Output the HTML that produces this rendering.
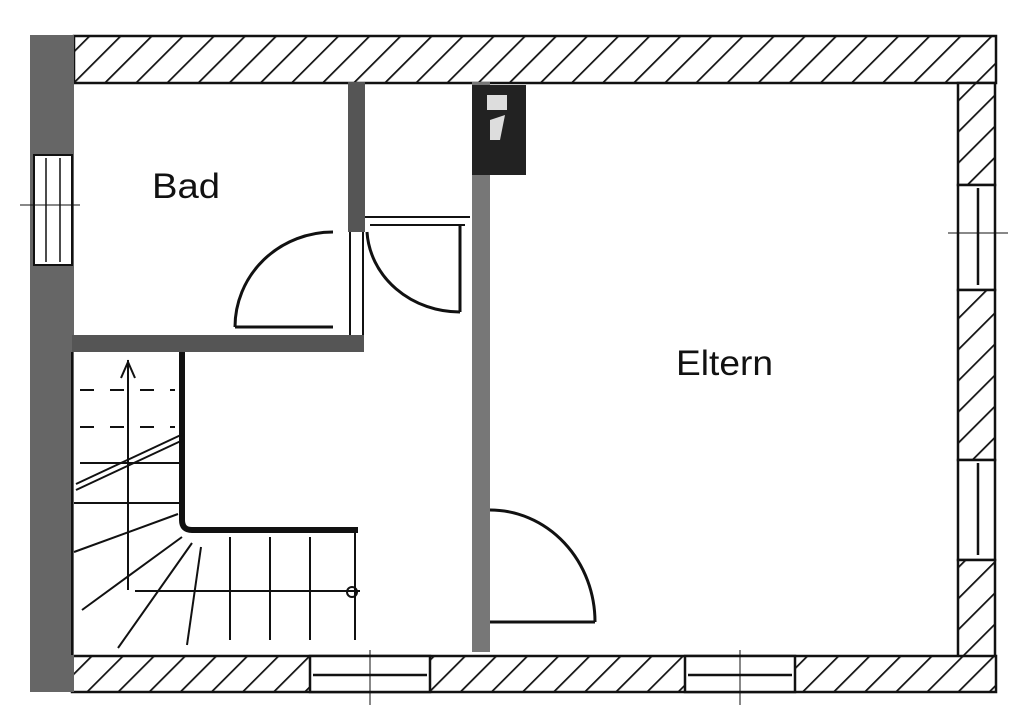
<!DOCTYPE html>
<html><head><meta charset="utf-8"><style>
html,body{margin:0;padding:0;background:#fff;width:1020px;height:720px;overflow:hidden}
svg{display:block}
text{font-family:"Liberation Sans",sans-serif;fill:#111}
</style></head><body>
<svg width="1020" height="720" viewBox="0 0 1020 720" xmlns="http://www.w3.org/2000/svg">
<defs>
<pattern id="h" patternUnits="userSpaceOnUse" width="22" height="22" patternTransform="rotate(45)">
<rect width="22" height="22" fill="#fff"/>
<line x1="0" y1="0" x2="0" y2="22" stroke="#111" stroke-width="3.5"/>
</pattern>
</defs>
<g stroke="#111" stroke-width="2.5" fill="none">
<rect x="74" y="36" width="922" height="47" fill="url(#h)"/>
<rect x="958" y="83" width="37" height="102" fill="url(#h)"/>
<rect x="958" y="185" width="37" height="105" fill="#fff"/>
<line x1="978" y1="188" x2="978" y2="285"/>
<line x1="948" y1="233" x2="1008" y2="233" stroke-width="1"/>
<rect x="958" y="290" width="37" height="170" fill="url(#h)"/>
<rect x="958" y="460" width="37" height="100" fill="#fff"/>
<line x1="978" y1="463" x2="978" y2="555"/>
<rect x="958" y="560" width="37" height="97" fill="url(#h)"/>
<rect x="72" y="656" width="924" height="36" fill="url(#h)"/>
<rect x="310" y="656" width="120" height="36" fill="#fff"/>
<line x1="313" y1="675" x2="427" y2="675"/>
<line x1="370" y1="650" x2="370" y2="705" stroke-width="1"/>
<rect x="685" y="656" width="110" height="36" fill="#fff"/>
<line x1="688" y1="675" x2="792" y2="675"/>
<line x1="740" y1="650" x2="740" y2="705" stroke-width="1"/>
</g>
<rect x="30" y="35" width="44" height="657" fill="#666"/>
<rect x="34" y="155" width="38" height="110" fill="#fff" stroke="#111" stroke-width="2"/>
<line x1="46" y1="158" x2="46" y2="262" stroke="#111" stroke-width="1.5"/>
<line x1="60" y1="158" x2="60" y2="262" stroke="#111" stroke-width="1.5"/>
<line x1="20" y1="205" x2="80" y2="205" stroke="#111" stroke-width="1"/>
<rect x="72" y="335" width="292" height="17" fill="#555"/>
<rect x="348" y="82" width="17" height="150" fill="#555"/>
<g stroke="#111" stroke-width="2" fill="none">
<line x1="350" y1="232" x2="350" y2="335"/>
<line x1="363" y1="232" x2="363" y2="335"/>
<path d="M235 327 A98 95 0 0 1 333 232" stroke-width="3"/>
<line x1="235" y1="327" x2="333" y2="327" stroke-width="3"/>
<line x1="365" y1="217" x2="470" y2="217"/>
<line x1="370" y1="225" x2="465" y2="225"/>
<path d="M367 232 A93 85 0 0 0 460 312" stroke-width="3"/>
<line x1="460" y1="225" x2="460" y2="312" stroke-width="3"/>
</g>
<rect x="472" y="82" width="18" height="570" fill="#777"/>
<rect x="472" y="85" width="54" height="90" fill="#222"/>
<path d="M487 95 h20 v15 h-20z M490 120 l15 -5 l-5 25 h-10z" fill="#ddd"/>
<g stroke="#111" stroke-width="3" fill="none">
<path d="M490 510 A105 112 0 0 1 595 622"/>
<line x1="490" y1="622" x2="595" y2="622"/>
</g>
<g stroke="#111" stroke-width="2" fill="none">
<line x1="72" y1="352" x2="72" y2="655"/>
<path d="M182 352 V520 Q182 530 192 530 H358" stroke-width="6"/>
<line x1="128" y1="360" x2="128" y2="590"/>
<path d="M121 378 L128 362 L135 378"/>
<g stroke-dasharray="14 16"><line x1="80" y1="390" x2="175" y2="390"/><line x1="80" y1="427" x2="175" y2="427"/></g>
<line x1="80" y1="463" x2="185" y2="463"/>
<line x1="76" y1="490" x2="183" y2="440"/>
<line x1="76" y1="484" x2="183" y2="434"/>
<line x1="74" y1="503" x2="180" y2="503"/>
<line x1="74" y1="552" x2="178" y2="514"/>
<line x1="82" y1="610" x2="182" y2="537"/>
<line x1="118" y1="648" x2="192" y2="543"/>
<line x1="187" y1="645" x2="201" y2="547"/>
<line x1="230" y1="537" x2="230" y2="640"/>
<line x1="270" y1="537" x2="270" y2="640"/>
<line x1="310" y1="537" x2="310" y2="640"/>
<line x1="355" y1="533" x2="355" y2="640"/>
<line x1="135" y1="591" x2="360" y2="591"/>
<circle cx="352" cy="592" r="5"/>
</g>
<text x="152" y="198" font-size="35" textLength="68" lengthAdjust="spacingAndGlyphs">Bad</text>
<text x="676" y="375" font-size="35" textLength="97" lengthAdjust="spacingAndGlyphs">Eltern</text>
</svg>
</body></html>
